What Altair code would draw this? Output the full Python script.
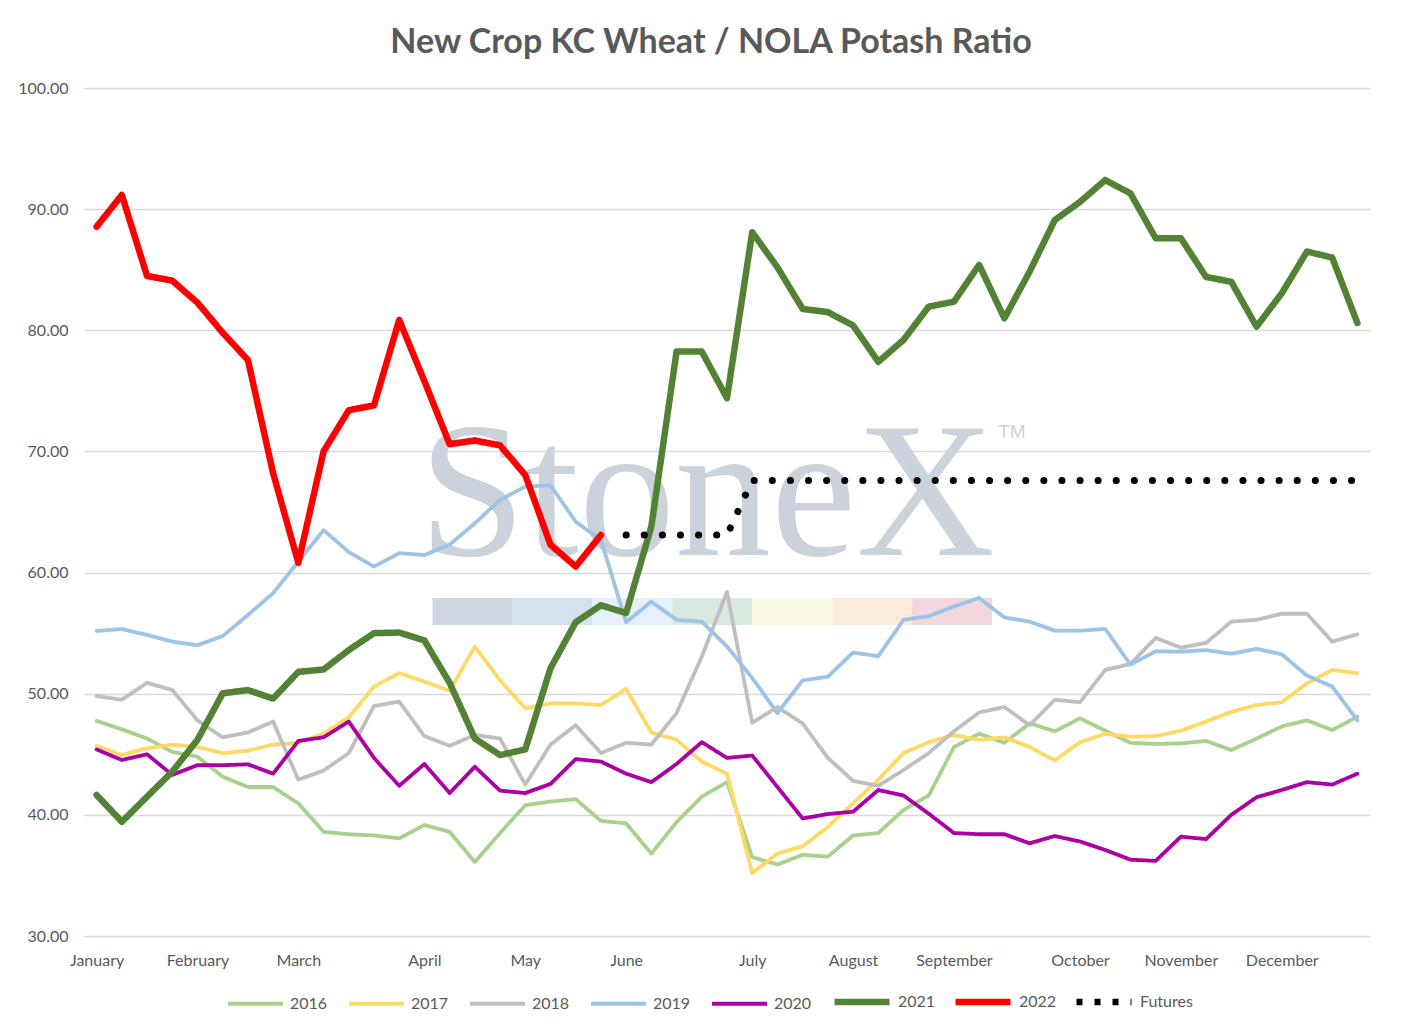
import json
import pandas as pd
import altair as alt

# weekly positions 0..50, months labelled at their first week
weeks = list(range(51))
month_names = ["January", "February", "March", "April", "May", "June",
               "July", "August", "September", "October", "November", "December"]
month_weeks = [0, 4, 8, 13, 17, 21, 26, 30, 34, 39, 43, 47]

y2016 = [47.75, 47.06, 46.3, 45.2, 44.8, 43.15, 42.3, 42.3, 40.95, 38.6, 38.4,
         38.3, 38.06, 39.16, 38.6, 36.1, 38.5, 40.8, 41.1, 41.3, 39.5,
         39.3, 36.8, 39.4, 41.5, 42.7, 36.5, 35.9, 36.7, 36.55, 38.3,
         38.5, 40.4, 41.6, 45.6, 46.7, 45.95, 47.55, 46.9, 47.97, 46.95,
         45.95, 45.85, 45.9, 46.1, 45.35, 46.3, 47.3, 47.8, 47.0, 48.1]
y2017 = [45.7, 44.94, 45.5, 45.8, 45.6, 45.1, 45.3, 45.8, 45.95, 46.7, 48.05,
         50.6, 51.7, 51.0, 50.25, 53.9, 51.1, 48.8, 49.2, 49.2, 49.07,
         50.4, 46.8, 46.2, 44.4, 43.4, 35.2, 36.8, 37.4, 39.0, 40.95,
         42.9, 45.1, 46.0, 46.6, 46.2, 46.4, 45.6, 44.5, 46.0, 46.7,
         46.45, 46.5, 46.95, 47.7, 48.5, 49.07, 49.3, 50.86, 51.96, 51.7]
y2018 = [49.8, 49.5, 50.9, 50.3, 47.8, 46.4, 46.8, 47.7, 42.9, 43.65, 45.1,
         48.98, 49.35, 46.5, 45.7, 46.6, 46.3, 42.5, 45.8, 47.4, 45.1,
         45.95, 45.8, 48.4, 53.06, 58.4, 47.6, 48.9, 47.55, 44.7, 42.8,
         42.4, 43.7, 45.1, 46.9, 48.45, 48.9, 47.4, 49.5, 49.3, 51.96,
         52.45, 54.6, 53.8, 54.2, 55.95, 56.1, 56.6, 56.6, 54.3, 54.9]
y2019 = [55.18, 55.34, 54.85, 54.3, 54.0, 54.76, 56.5, 58.3, 60.9, 63.5, 61.7,
         60.5, 61.6, 61.45, 62.3, 64.07, 66.0, 67.1, 67.2, 64.2, 62.7,
         55.9, 57.6, 56.1, 55.95, 53.9, 51.3, 48.4, 51.1, 51.4, 53.4,
         53.1, 56.1, 56.4, 57.2, 57.9, 56.3, 55.95, 55.2, 55.2, 55.35,
         52.4, 53.5, 53.47, 53.6, 53.3, 53.7, 53.25, 51.5, 50.6, 47.8]
y2020 = [45.4, 44.53, 45.0, 43.3, 44.1, 44.1, 44.17, 43.4, 46.1, 46.4, 47.7,
         44.7, 42.4, 44.2, 41.8, 43.97, 42.0, 41.8, 42.55, 44.6, 44.4,
         43.4, 42.7, 44.2, 46.0, 44.7, 44.9, 42.3, 39.7, 40.07, 40.26,
         42.05, 41.6, 40.1, 38.5, 38.4, 38.4, 37.65, 38.25, 37.8, 37.1,
         36.3, 36.2, 38.2, 38.0, 40.0, 41.45, 42.05, 42.7, 42.5, 43.4]
y2021 = [41.64, 39.43, 41.5, 43.56, 46.2, 50.03, 50.3, 49.6, 51.8, 52.0, 53.6,
         55.0, 55.05, 54.4, 50.9, 46.3, 44.94, 45.4, 52.1, 55.9, 57.3,
         56.66, 63.8, 78.24, 78.24, 74.4, 88.1, 85.2, 81.76, 81.5, 80.4,
         77.4, 79.2, 81.95, 82.36, 85.4, 80.99, 84.84, 89.1, 90.6, 92.4,
         91.3, 87.6, 87.6, 84.4, 84.0, 80.3, 83.05, 86.5, 86.0, 80.6]
y2022 = [88.55, 91.17, 84.48, 84.1, 82.28, 79.8, 77.55, 68.2, 60.8, 70.0, 73.4,
         73.8, 80.85, 75.8, 70.6, 70.9, 70.5, 68.05, 62.3, 60.5, 63.1]
futures_start = 21
futures = [63.1, 63.1, 63.1, 63.1, 63.1, 67.6, 67.6, 67.6, 67.6, 67.6,
           67.6, 67.6, 67.6, 67.6, 67.6, 67.6, 67.6, 67.6, 67.6, 67.6,
           67.6, 67.6, 67.6, 67.6, 67.6, 67.6, 67.6, 67.6, 67.6, 67.6]

series_names = ["2016", "2017", "2018", "2019", "2020", "2021", "2022", "Futures"]
series_colors = ["#A9D18E", "#FFD966", "#BFBFBF", "#9DC3E6", "#AC00A4",
                 "#548235", "#FF0000", "#000000"]
series_widths = [3.8, 3.8, 3.8, 3.8, 3.8, 6.5, 6.5, 6.5]
series_dashes = [[1, 0]] * 7 + [[6, 12]]

rows = []
for name, vals, start in [("2016", y2016, 0), ("2017", y2017, 0), ("2018", y2018, 0),
                          ("2019", y2019, 0), ("2020", y2020, 0), ("2021", y2021, 0),
                          ("2022", y2022, 0), ("Futures", futures, futures_start)]:
    for i, v in enumerate(vals):
        rows.append({"week": start + i, "ratio": v, "series": name})
df = pd.DataFrame(rows)

# StoneX watermark (background decoration)
strip_colors = ["#C9D1DB", "#D2DEED", "#E3EEF9", "#D5E7DC", "#FAF8E0", "#FCE9D6", "#F1D4D8"]
strip_left, strip_step, strip_low, strip_high = 13.32, 3.17, 55.67, 57.9
strip = pd.DataFrame({
    "week": [strip_left + k * strip_step for k in range(len(strip_colors))],
    "week_end": [strip_left + (k + 1) * strip_step for k in range(len(strip_colors))],
    "ratio": [strip_low] * len(strip_colors),
    "ratio_end": [strip_high] * len(strip_colors),
    "fill": strip_colors,
})
mark_text = pd.DataFrame({"week": [24.2, 36.3], "ratio": [61.45, 71.6],
                          "label": ["StoneX", "TM"]})

x_enc = alt.X("week:Q", title=None,
              scale=alt.Scale(domain=[-0.5, 50.5], nice=False, zero=False),
              axis=alt.Axis(values=month_weeks, grid=False, domain=False, ticks=False,
                            labelPadding=16, labelFlush=False, labelOverlap=False,
                            labelExpr=f"{json.dumps(month_names)}[indexof({json.dumps(month_weeks)}, datum.value)]"))
y_enc = alt.Y("ratio:Q", title=None,
              scale=alt.Scale(domain=[30, 100], nice=False, zero=False),
              axis=alt.Axis(values=list(range(30, 101, 10)), format=".2f", domain=False,
                            ticks=False, labelPadding=16, gridColor="#D9D9D9", gridWidth=1.5))

strip_layer = alt.Chart(strip).mark_rect(opacity=0.9).encode(
    x=alt.X("week:Q", title=None), x2="week_end",
    y=alt.Y("ratio:Q", title=None), y2="ratio_end",
    fill=alt.Fill("fill:N", scale=None),
)
word_layer = alt.Chart(mark_text).transform_filter("datum.label == 'StoneX'").mark_text(
    font="Liberation Serif", fontSize=192, color="#CBD2DC", baseline="alphabetic", align="center"
).encode(x=alt.X("week:Q", title=None), y=alt.Y("ratio:Q", title=None), text="label:N")
tm_layer = alt.Chart(mark_text).transform_filter("datum.label == 'TM'").mark_text(
    font="Liberation Sans", fontSize=19, color="#CBD2DC", baseline="middle", align="center"
).encode(x=alt.X("week:Q", title=None), y=alt.Y("ratio:Q", title=None), text="label:N")

legend = alt.Legend(title=None, orient="none", direction="horizontal", legendX=142, legendY=883,
                    symbolType="stroke", symbolSize=3025, labelFont="Lato", labelFontSize=16,
                    labelColor="#595959", labelOffset=5, gridAlign="all", columnPadding=-9,
                    padding=0)

lines = alt.Chart(df[df["series"] != "Futures"]).mark_line(strokeCap="round", strokeJoin="round").encode(
    x=x_enc,
    y=y_enc,
    color=alt.Color("series:N", scale=alt.Scale(domain=series_names, range=series_colors), legend=legend),
    strokeWidth=alt.StrokeWidth("series:N", scale=alt.Scale(type="ordinal", domain=series_names,
                                                            range=series_widths), legend=legend),
    strokeDash=alt.StrokeDash("series:N", scale=alt.Scale(domain=series_names, range=series_dashes),
                              legend=legend),
)

futures_line = alt.Chart(df[df["series"] == "Futures"]).mark_line(
    color="#000000", strokeWidth=7, strokeDash=[0.1, 18], strokeCap="round"
).encode(x=alt.X("week:Q", title=None), y=alt.Y("ratio:Q", title=None))

chart = (
    alt.layer(strip_layer, word_layer, tm_layer, lines, futures_line)
    .properties(
        width=1286, height=848,
        padding={"left": 76, "top": 80, "right": 43, "bottom": 89},
        autosize=alt.AutoSizeParams(type="none"),
        title=alt.TitleParams("New Crop KC Wheat / NOLA Potash Ratio", font="Lato", fontSize=34,
                              fontWeight="bold", color="#595959", anchor="middle",
                              offset=20, dx=-16),
    )
    .configure_view(stroke=None)
    .configure_axis(labelFont="Lato", labelFontSize=16, labelColor="#595959")
)

chart.save("out.html", embed_options={"renderer": "svg", "actions": False})
